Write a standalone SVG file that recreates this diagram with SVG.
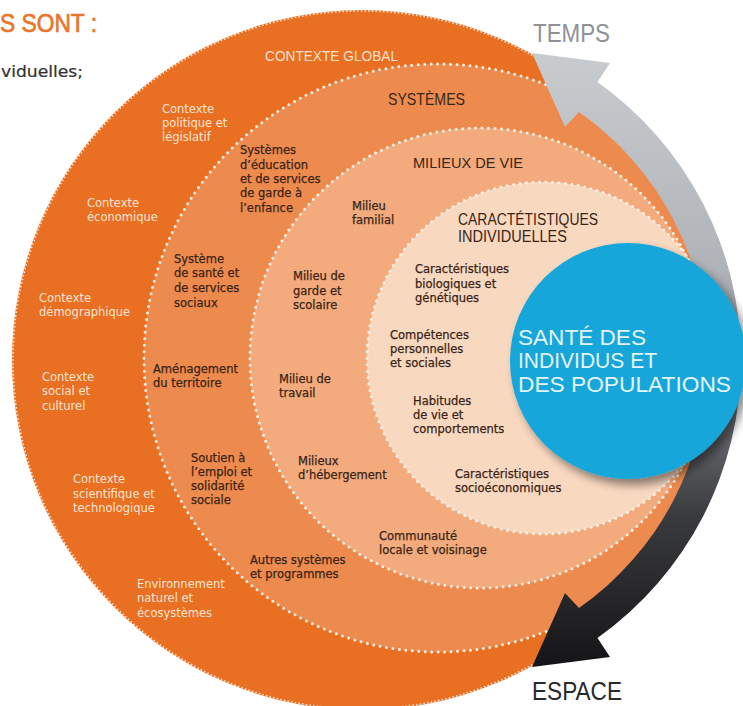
<svg xmlns="http://www.w3.org/2000/svg" width="743" height="706" viewBox="0 0 743 706">
<defs>
<linearGradient id="bandGrad" gradientUnits="userSpaceOnUse" x1="0" y1="50" x2="0" y2="670">
<stop offset="0" stop-color="#c9cccf"/>
<stop offset="0.35" stop-color="#b0b3b7"/>
<stop offset="0.55" stop-color="#7c7f84"/>
<stop offset="0.75" stop-color="#3a3b3e"/>
<stop offset="1" stop-color="#141416"/>
</linearGradient>
<filter id="shadow" x="-20%" y="-20%" width="150%" height="150%">
<feGaussianBlur in="SourceAlpha" stdDeviation="5"/>
<feOffset dx="5" dy="6" result="b"/>
<feComponentTransfer><feFuncA type="linear" slope="0.45"/></feComponentTransfer>
<feMerge><feMergeNode/><feMergeNode in="SourceGraphic"/></feMerge>
</filter>
</defs>
<style>
.dots{fill:none;stroke:#fdf1e6;stroke-width:3;stroke-linecap:round;stroke-dasharray:0 6.5}
.edge{fill:none;stroke:#fbe7d6;stroke-width:1.6;stroke-dasharray:1.5 2.2}
.lw{font-family:"DejaVu Sans",sans-serif;font-size:11.5px;fill:#fbe5d2}
.ld{font-family:"DejaVu Sans",sans-serif;font-size:11.5px;fill:#3a2414;stroke:#3a2414;stroke-width:0.25}
.hd{font-family:"Liberation Sans",Arial,sans-serif;fill:#3a2616}
.hw{font-family:"Liberation Sans",Arial,sans-serif;fill:#f8e0cc}
.blue{font-family:"Liberation Sans",Arial,sans-serif;font-size:22px;fill:#e3f5fc}
</style>
<rect width="743" height="706" fill="#ffffff"/>

<g id="header">
<text x="0" y="32" font-family="Liberation Sans, Arial, sans-serif" font-size="25" fill="#e8762c" stroke="#e8762c" stroke-width="0.7" textLength="97" lengthAdjust="spacingAndGlyphs">S SONT :</text>
<text x="1" y="77" font-family="DejaVu Sans, sans-serif" font-size="15" fill="#333333" stroke="#333333" stroke-width="0.2" textLength="82" lengthAdjust="spacingAndGlyphs">viduelles;</text>
</g>

<g id="contexte-global">
<circle cx="362" cy="360" r="350" fill="#e96f22"/>
<circle cx="362" cy="360" r="349" class="edge"/>
<text class="hw" x="265" y="61" font-size="15" textLength="133" lengthAdjust="spacingAndGlyphs">CONTEXTE GLOBAL</text>
<text class="lw"><tspan x="162" y="113">Contexte</tspan><tspan x="162" y="127">politique et</tspan><tspan x="162" y="141">législatif</tspan></text>
<text class="lw"><tspan x="87" y="207">Contexte</tspan><tspan x="87" y="221">économique</tspan></text>
<text class="lw"><tspan x="39" y="302">Contexte</tspan><tspan x="39" y="316">démographique</tspan></text>
<text class="lw"><tspan x="42" y="381">Contexte</tspan><tspan x="42" y="395">social et</tspan><tspan x="42" y="410">culturel</tspan></text>
<text class="lw"><tspan x="73" y="483">Contexte</tspan><tspan x="73" y="498">scientifique et</tspan><tspan x="73" y="512">technologique</tspan></text>
<text class="lw"><tspan x="137" y="588">Environnement</tspan><tspan x="137" y="602">naturel et</tspan><tspan x="137" y="617">écosystèmes</tspan></text>
</g>

<g id="systemes">
<circle cx="438" cy="358" r="294" fill="#ed8a4d"/>
<circle cx="438" cy="358" r="294" class="dots"/>
<text class="hd" x="388" y="105" font-size="16.5" textLength="77" lengthAdjust="spacingAndGlyphs">SYSTÈMES</text>
<text class="ld"><tspan x="240" y="154">Systèmes</tspan><tspan x="240" y="169">d’éducation</tspan><tspan x="240" y="183">et de services</tspan><tspan x="240" y="197">de garde à</tspan><tspan x="240" y="212">l’enfance</tspan></text>
<text class="ld"><tspan x="174" y="263">Système</tspan><tspan x="174" y="277">de santé et</tspan><tspan x="174" y="292">de services</tspan><tspan x="174" y="307">sociaux</tspan></text>
<text class="ld"><tspan x="153" y="373">Aménagement</tspan><tspan x="153" y="387">du territoire</tspan></text>
<text class="ld"><tspan x="191" y="462">Soutien à</tspan><tspan x="191" y="476">l’emploi et</tspan><tspan x="191" y="490">solidarité</tspan><tspan x="191" y="504">sociale</tspan></text>
<text class="ld"><tspan x="250" y="564">Autres systèmes</tspan><tspan x="250" y="578">et programmes</tspan></text>
</g>

<g id="milieux-de-vie">
<circle cx="480" cy="358" r="230" fill="#f3aa7c"/>
<circle cx="480" cy="358" r="230" class="dots"/>
<text class="hd" x="413" y="168" font-size="15.5" textLength="110" lengthAdjust="spacingAndGlyphs">MILIEUX DE VIE</text>
<text class="ld"><tspan x="352" y="210">Milieu</tspan><tspan x="352" y="224">familial</tspan></text>
<text class="ld"><tspan x="293" y="280">Milieu de</tspan><tspan x="293" y="295">garde et</tspan><tspan x="293" y="309">scolaire</tspan></text>
<text class="ld"><tspan x="279" y="383">Milieu de</tspan><tspan x="279" y="397">travail</tspan></text>
<text class="ld"><tspan x="298" y="465">Milieux</tspan><tspan x="298" y="479">d’hébergement</tspan></text>
<text class="ld"><tspan x="379" y="540">Communauté</tspan><tspan x="379" y="554">locale et voisinage</tspan></text>
</g>

<g id="caracteristiques-individuelles">
<circle cx="543" cy="358" r="176" fill="#f9d8c0"/>
<circle cx="543" cy="358" r="176" class="dots"/>
<text class="hd" x="458" y="225" font-size="16" textLength="140" lengthAdjust="spacingAndGlyphs">CARACTÉTISTIQUES</text>
<text class="hd" x="458" y="242" font-size="16" textLength="109" lengthAdjust="spacingAndGlyphs">INDIVIDUELLES</text>
<text class="ld"><tspan x="415" y="273">Caractéristiques</tspan><tspan x="415" y="288">biologiques et</tspan><tspan x="415" y="302">génétiques</tspan></text>
<text class="ld"><tspan x="390" y="339">Compétences</tspan><tspan x="390" y="353">personnelles</tspan><tspan x="390" y="367">et sociales</tspan></text>
<text class="ld"><tspan x="413" y="405">Habitudes</tspan><tspan x="413" y="419">de vie et</tspan><tspan x="413" y="433">comportements</tspan></text>
<text class="ld"><tspan x="455" y="478">Caractéristiques</tspan><tspan x="455" y="492">socioéconomiques</tspan></text>
</g>

<g id="connectors">
<path d="M597.5,82 L610,63 L532,53 L565,127 L579,112 A303,303 0 0 1 579,608 L565,593 L532,667 L610,657 L597.5,638 A341,341 0 0 0 597.5,82 Z" fill="url(#bandGrad)"/>
<text x="533" y="42" font-family="Liberation Sans, Arial, sans-serif" font-size="26" fill="#8e9297" textLength="77" lengthAdjust="spacingAndGlyphs">TEMPS</text>
<text x="532" y="700" font-family="Liberation Sans, Arial, sans-serif" font-size="25" fill="#2a2a2c" textLength="90" lengthAdjust="spacingAndGlyphs">ESPACE</text>
</g>

<g id="sante">
<circle cx="628" cy="361" r="118" fill="#17a6d9" filter="url(#shadow)"/>
<text class="blue" x="518" y="345" textLength="128" lengthAdjust="spacingAndGlyphs">SANTÉ DES</text>
<text class="blue" x="518" y="368" textLength="139" lengthAdjust="spacingAndGlyphs">INDIVIDUS ET</text>
<text class="blue" x="518" y="392" textLength="213" lengthAdjust="spacingAndGlyphs">DES POPULATIONS</text>
</g>
</svg>
